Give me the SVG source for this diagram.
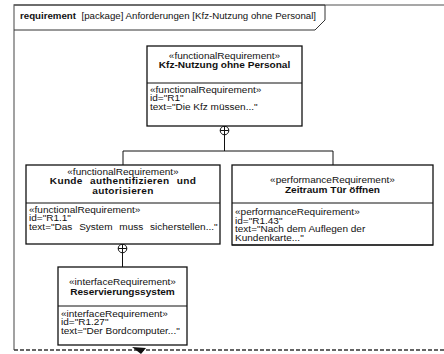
<svg xmlns="http://www.w3.org/2000/svg" width="444" height="354" viewBox="0 0 444 354">
  <style>
    text { font-family: "Liberation Sans", Arial, sans-serif; font-size: 8.8px; fill: #111; }
    /* narrow type: glyphs stretched sideways from their own left edge or centre */
    .n { transform-box: fill-box; transform-origin: 0 50%; transform: scaleX(1.14); }
    .nc { text-anchor: middle; transform-box: fill-box; transform-origin: 50% 50%; transform: scaleX(1.14); }
    .name { font-weight: bold; font-size: 9.6px; text-anchor: middle; transform-box: fill-box; transform-origin: 50% 50%; transform: scaleX(1.05); }
    .box { fill: #fff; stroke: #111; stroke-width: 1.3; }
    .div { stroke: #111; stroke-width: 1; }
    .frame { fill: none; stroke: #8a8a8a; stroke-width: 1.6; }
    .conn { fill: none; stroke: #111; stroke-width: 1; }
  </style>
  <defs>
    <clipPath id="clipPerf"><rect x="232" y="203" width="201" height="42"/></clipPath>
  </defs>
  <rect width="444" height="354" fill="#fff"/>

  <!-- package frame -->
  <g id="frame">
    <path class="frame" d="M14,350 V5 H444"/>
    <line x1="14" y1="350" x2="444" y2="350" stroke="#333" stroke-width="1.5" stroke-dasharray="4 2"/>
    <path d="M14,5 H325 V20 L315,30 H14" fill="none" stroke="#333" stroke-width="1"/>
    <text x="20" y="19.5" font-size="8.9" style="transform-box: fill-box; transform-origin: 0 50%; transform: scaleX(1.1)"><tspan font-weight="bold">requirement</tspan><tspan dx="5">[package] Anforderungen [Kfz-Nutzung ohne Personal]</tspan></text>
  </g>

  <!-- containment connectors -->
  <g id="connectors">
    <circle class="conn" cx="224.5" cy="130.5" r="4.3"/>
    <line class="conn" x1="220.2" y1="130.5" x2="228.8" y2="130.5"/>
    <line class="conn" x1="224.5" y1="126" x2="224.5" y2="151"/>
    <polyline class="conn" points="123,165 123,151 333,151 333,165"/>
    <circle class="conn" cx="122.5" cy="248.5" r="4.3"/>
    <line class="conn" x1="118.2" y1="248.5" x2="126.8" y2="248.5"/>
    <line class="conn" x1="122.5" y1="244" x2="122.5" y2="267"/>
    <polygon points="132,347 146,348 141,354" fill="#111"/>
  </g>

  <g id="R1">
    <rect class="box" x="147" y="46" width="155" height="80"/>
    <line class="div" x1="147" y1="83" x2="302" y2="83"/>
    <text class="nc" x="224.5" y="59">«functionalRequirement»</text>
    <text class="name" x="224.5" y="68.5">Kfz-Nutzung ohne Personal</text>
    <text class="n" x="150" y="93">«functionalRequirement»</text>
    <text class="n" x="150" y="101.5">id="R1"</text>
    <text class="n" x="150" y="110">text="Die Kfz müssen..."</text>
  </g>

  <g id="R1_1">
    <rect class="box" x="26" y="165" width="194" height="79"/>
    <line class="div" x1="26" y1="203" x2="220" y2="203"/>
    <text class="nc" x="123" y="175">«functionalRequirement»</text>
    <text class="name" x="123" y="184.5" word-spacing="4" letter-spacing="0.3">Kunde authentifizieren und</text>
    <text class="name" x="123" y="194" letter-spacing="0.3">autorisieren</text>
    <text class="n" x="29" y="213">«functionalRequirement»</text>
    <text class="n" x="29" y="221.5">id="R1.1"</text>
    <text class="n" x="29" y="230" word-spacing="3.5">text="Das System muss sicherstellen..."</text>
  </g>

  <g id="R1_43">
    <rect class="box" x="232" y="165" width="201" height="80"/>
    <line class="div" x1="232" y1="203" x2="433" y2="203"/>
    <text class="nc" x="332.5" y="183.5">«performanceRequirement»</text>
    <text class="name" x="332.5" y="193">Zeitraum Tür öffnen</text>
    <g clip-path="url(#clipPerf)">
      <text class="n" x="235" y="215.5">«performanceRequirement»</text>
      <text class="n" x="235" y="224">id="R1.43"</text>
      <text class="n" x="235" y="232.5">text="Nach dem Auflegen der</text>
      <text class="n" x="235" y="241">Kundenkarte..."</text>
    </g>
    <line class="div" x1="232" y1="245" x2="433" y2="245" stroke-width="1.3"/>
  </g>

  <g id="R1_27">
    <rect class="box" x="58" y="267" width="129" height="78"/>
    <line class="div" x1="58" y1="306" x2="187" y2="306"/>
    <text class="nc" x="122.5" y="285">«interfaceRequirement»</text>
    <text class="name" x="122.5" y="295">Reservierungssystem</text>
    <text class="n" x="61" y="317">«interfaceRequirement»</text>
    <text class="n" x="61" y="325.5">id="R1.27"</text>
    <text class="n" x="61" y="334">text="Der Bordcomputer..."</text>
  </g>
</svg>
